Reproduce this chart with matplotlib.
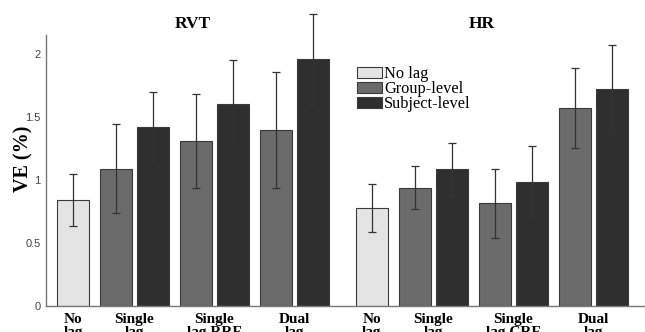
import matplotlib
matplotlib.use("Agg")
import matplotlib.pyplot as plt
import numpy as np

# ---- data ----
panels = ["RVT", "HR"]
categories_rvt = ["No\nlag", "Single\nlag", "Single\nlag RRF", "Dual\nlag"]
categories_hr = ["No\nlag", "Single\nlag", "Single\nlag CRF", "Dual\nlag"]
series = ["No lag", "Group-level", "Subject-level"]

rvt_nolag = [0.84]
rvt_nolag_err = [0.205]
rvt_group = [1.09, 1.31, 1.40]
rvt_group_err = [0.355, 0.375, 0.46]
rvt_subject = [1.42, 1.60, 1.96]
rvt_subject_err = [0.275, 0.35, 0.36]

hr_nolag = [0.775]
hr_nolag_err = [0.19]
hr_group = [0.94, 0.815, 1.57]
hr_group_err = [0.17, 0.275, 0.32]
hr_subject = [1.085, 0.98, 1.72]
hr_subject_err = [0.21, 0.29, 0.35]

yticks = [0, 0.5, 1, 1.5, 2]
ytick_labels = ["0", "0.5", "1", "1.5", "2"]

# ---- style ----
colors = ["#e4e4e4", "#6b6b6b", "#2f2f2f"]
edge = "#3a3a3a"
serif = ["Liberation Serif", "DejaVu Serif"]

fig = plt.figure(figsize=(6.45, 3.32), dpi=100)
ax = fig.add_axes([46 / 645, 26 / 332, 1 - 46 / 645, (306 - 35) / 332])

width = 0.86
pair_off = 0.5
group_pitch = 2.16
first_pair = 1.66
panel_offset = 8.08

err_kw = dict(ecolor="#333333", elinewidth=0.9, capsize=2.9, capthick=0.9)

tick_pos = []
tick_lab = []
title_x = [3.24, 11.05]
for p, (nolag, nolag_e, grp, grp_e, sub, sub_e, cats) in enumerate([
        (rvt_nolag, rvt_nolag_err, rvt_group, rvt_group_err, rvt_subject, rvt_subject_err, categories_rvt),
        (hr_nolag, hr_nolag_err, hr_group, hr_group_err, hr_subject, hr_subject_err, categories_hr)]):
    base = p * panel_offset
    ax.bar([base], nolag, width, yerr=nolag_e, color=colors[0], edgecolor=edge,
           linewidth=0.8, error_kw=err_kw,
           label=series[0] if p == 0 else None)
    centers = base + first_pair + group_pitch * np.arange(len(grp))
    ax.bar(centers - pair_off, grp, width, yerr=grp_e, color=colors[1], edgecolor=edge,
           linewidth=0.8, error_kw=err_kw,
           label=series[1] if p == 0 else None)
    ax.bar(centers + pair_off, sub, width, yerr=sub_e, color=colors[2], edgecolor=edge,
           linewidth=0.8, error_kw=err_kw,
           label=series[2] if p == 0 else None)
    tick_pos += [base] + list(centers)
    tick_lab += cats
    ax.text(title_x[p], 2.24, panels[p], ha="center", va="center",
            fontsize=12.5, fontweight="bold", family=serif, clip_on=False)

# let error bars extend beyond the axes
for coll in ax.collections:
    coll.set_clip_on(False)
for ln in ax.lines:
    ln.set_clip_on(False)

ax.set_xlim(-0.73, 15.46)
ax.set_ylim(0, 2.15)
ax.set_yticks(yticks)
ax.set_yticklabels(ytick_labels, family=["Liberation Sans"], fontsize=8, color="#444444")
ax.set_xticks(tick_pos)
ax.set_xticklabels(tick_lab, family=serif, fontsize=11, fontweight="bold",
                   linespacing=1.05, va="top")
ax.tick_params(axis="both", length=0)
ax.tick_params(axis="y", pad=4)
ax.tick_params(axis="x", pad=5)
for s in ["top", "right"]:
    ax.spines[s].set_visible(False)
for s in ["left", "bottom"]:
    ax.spines[s].set_color("#777777")
    ax.spines[s].set_linewidth(1.0)

ax.set_ylabel("VE (%)", family=serif, fontsize=14.5, fontweight="bold")
ax.yaxis.set_label_coords((33 - 46) / 599, (306 - 159) / 271)

leg = ax.legend(loc="upper left", bbox_to_anchor=(357 / 645, 1 - 66 / 332),
                bbox_transform=fig.transFigure, frameon=False, borderpad=0,
                prop=dict(family=serif, size=11.8), handlelength=1.5,
                handleheight=0.7, labelspacing=-0.05, handletextpad=0.15,
                borderaxespad=0)

fig.savefig("out.png", dpi=100)
